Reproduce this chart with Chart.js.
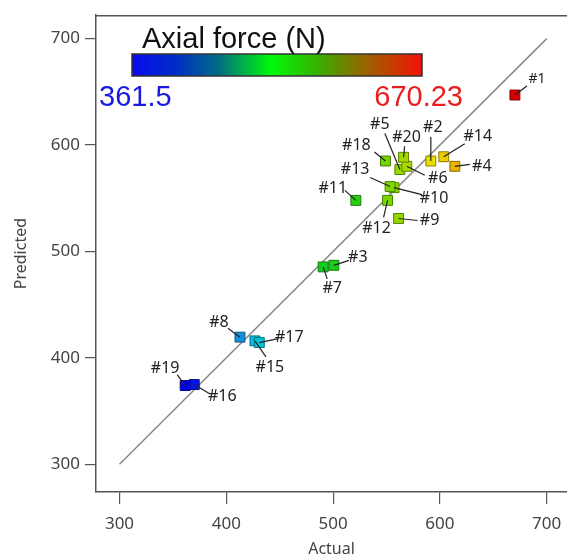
<!DOCTYPE html>
<html>
<head>
<meta charset="utf-8">
<script src="https://cdn.jsdelivr.net/npm/chart.js@4/dist/chart.umd.min.js"></script>
<style>
  html, body { margin: 0; padding: 0; background: #fff; overflow: hidden; }
  #wrap { width: 567px; height: 559px; position: relative; }
</style>
</head>
<body>
<div id="wrap"><canvas id="chart"></canvas></div>
<script>
/* ==================== DATA ==================== */
const runLabels = ['#1', '#2', '#3', '#4', '#5', '#6', '#7', '#8', '#9', '#10',
                   '#11', '#12', '#13', '#14', '#15', '#16', '#17', '#18', '#19', '#20'];
const actual    = [670.23, 591.5, 500.7, 614, 562.5, 569, 490.7, 412.8, 561.3, 557,
                   521.3, 551, 553.4, 603.6, 426.8, 370, 430.9, 549, 361.5, 566];
const predicted = [647, 585, 487, 580, 577, 580, 485.5, 419.5, 531, 560,
                   548, 548, 561, 589, 416, 375, 414.4, 585, 374, 588.5];
const xTicks = [300, 400, 500, 600, 700];
const yTicks = [300, 400, 500, 600, 700];
const fitLine = [300, 700];
const forceMin = 361.5;
const forceMax = 670.23;

// label placement: [text dx, text dy, leader end dx, leader end dy] relative to marker
const labelPos = [
    [22, -16, 12, -9], [2, -34, 0, -24], [24, -8, 15, -5], [27, 0, 15, -2], [-20, -45, -15, -36],
    [31, 12, 18, 9], [9, 22, 4, 12], [-21, -15, -12, -9], [31, 2, 19, 2], [40, 11, 28, 7],
    [-23, -12, -11, -10], [-11, 28, -4, 17], [-35, -17, -20, -9], [34, -20, 21, -13], [15, 27, 11, 16],
    [28, 12, 15, 9], [30, -5, 19, -4], [-29, -16, -11, -9], [-20, -17, -8, -11], [3, -20, 1, -11],
];

/* ==================== COLOURS ==================== */
const pointStops = [
    [0.00, [0, 0, 235]], [0.16, [20, 140, 220]], [0.22, [0, 195, 225]], [0.42, [20, 205, 30]],
    [0.52, [45, 205, 20]], [0.62, [125, 215, 0]], [0.75, [235, 222, 0]], [0.80, [235, 195, 0]],
    [0.84, [232, 160, 0]], [1.00, [215, 0, 0]],
];

function mix(stops, t) {
    t = Math.max(0, Math.min(1, t));
    for (let i = 1; i < stops.length; i++) {
        if (t <= stops[i][0]) {
            const [t0, c0] = stops[i - 1];
            const [t1, c1] = stops[i];
            const f = (t - t0) / (t1 - t0);
            return c0.map((v, k) => Math.round(v + (c1[k] - v) * f));
        }
    }
    return stops[stops.length - 1][1];
}

const fills = actual.map((a) => mix(pointStops, (a - forceMin) / (forceMax - forceMin)));
const fillCss = fills.map((c) => 'rgb(' + c.join(',') + ')');
const edgeCss = fills.map((c) => 'rgb(' + c.map((v) => Math.round(v * 0.6)).join(',') + ')');

/* ==================== PLUGINS ==================== */
const frameAndLabels = {
    id: 'frameAndLabels',
    afterDatasetsDraw(chart) {
        const { ctx, chartArea, scales } = chart;
        ctx.save();
        // top edge of the plot frame
        ctx.strokeStyle = '#555';
        ctx.lineWidth = 1.5;
        ctx.beginPath();
        ctx.moveTo(chartArea.left, chartArea.top + 0.5);
        ctx.lineTo(chartArea.right, chartArea.top + 0.5);
        ctx.stroke();

        // run labels with leader lines
        ctx.textAlign = 'center';
        ctx.textBaseline = 'middle';
        ctx.fillStyle = '#222';
        ctx.strokeStyle = '#222';
        ctx.lineWidth = 1.2;
        runLabels.forEach((lab, i) => {
            const px = scales.x.getPixelForValue(actual[i]);
            const py = scales.y.getPixelForValue(predicted[i]);
            const [tx, ty, lx, ly] = labelPos[i];
            ctx.beginPath();
            ctx.moveTo(px, py);
            ctx.lineTo(px + lx, py + ly);
            ctx.stroke();
            ctx.font = (i === 0 ? '14px' : '16px') + ' "Noto Sans", sans-serif';
            ctx.fillText(lab, px + tx, py + ty);
        });
        ctx.restore();
    },
    afterDraw(chart) {
        const { ctx } = chart;
        ctx.save();
        // colour bar legend
        const x0 = 132, y0 = 54, w = 290, h = 22;
        const g = ctx.createLinearGradient(x0, 0, x0 + w, 0);
        g.addColorStop(0.00, 'rgb(10,10,235)');
        g.addColorStop(0.15, 'rgb(0,45,200)');
        g.addColorStop(0.30, 'rgb(0,110,130)');
        g.addColorStop(0.48, 'rgb(0,250,10)');
        g.addColorStop(0.65, 'rgb(60,170,0)');
        g.addColorStop(0.78, 'rgb(140,110,0)');
        g.addColorStop(0.90, 'rgb(200,60,0)');
        g.addColorStop(1.00, 'rgb(245,15,10)');
        ctx.fillStyle = g;
        ctx.fillRect(x0, y0, w, h);
        ctx.strokeStyle = '#333';
        ctx.lineWidth = 1.5;
        ctx.strokeRect(x0, y0, w, h);

        ctx.textBaseline = 'alphabetic';
        ctx.textAlign = 'left';
        ctx.font = '29px "Liberation Sans", Arial, sans-serif';
        ctx.fillStyle = '#111';
        ctx.fillText('Axial force (N)', 142, 48);
        ctx.fillStyle = 'rgb(25,25,225)';
        ctx.fillText(String(forceMin), 99, 106);
        ctx.fillStyle = 'rgb(232,30,30)';
        ctx.textAlign = 'right';
        ctx.fillText(String(forceMax), 463, 106);
        ctx.restore();
    },
};

/* ==================== CHART ==================== */
const tickFont = { family: '"Noto Sans", sans-serif', size: 17 };
const titleFont = { family: '"Noto Sans", sans-serif', size: 16 };

new Chart(document.getElementById('chart'), {
    type: 'scatter',
    data: {
        datasets: [
            {
                type: 'line',
                data: fitLine.map((v) => ({ x: v, y: v })),
                borderColor: '#8a8a8a',
                borderWidth: 1.5,
                pointRadius: 0,
                order: 2,
            },
            {
                data: actual.map((a, i) => ({ x: a, y: predicted[i] })),
                pointStyle: 'rect',
                pointRadius: 7,
                pointBackgroundColor: fillCss,
                pointBorderColor: edgeCss,
                pointBorderWidth: 1,
                order: 1,
            },
        ],
    },
    options: {
        responsive: true,
        maintainAspectRatio: false,
        animation: false,
        layout: { autoPadding: false, padding: { top: 13, left: 0, right: 0, bottom: 0 } },
        plugins: { legend: { display: false }, tooltip: { enabled: false } },
        scales: {
            x: {
                type: 'linear',
                min: 278,
                max: 719,
                afterBuildTicks: (axis) => { axis.ticks = xTicks.map((v) => ({ value: v })); },
                afterFit: (axis) => { axis.height = 67; axis.paddingRight = 0; axis.paddingLeft = 0; },
                grid: { drawOnChartArea: false, drawTicks: true, tickLength: 12, color: '#555', lineWidth: 1.2 },
                border: { display: true, color: '#555', width: 1.5 },
                ticks: { color: '#444', font: tickFont, padding: 10, maxRotation: 0 },
                title: { display: true, text: 'Actual', color: '#444', font: titleFont, padding: { top: 2, bottom: 0 } },
            },
            y: {
                type: 'linear',
                min: 274,
                max: 722,
                afterBuildTicks: (axis) => { axis.ticks = yTicks.map((v) => ({ value: v })); },
                afterFit: (axis) => { axis.width = 96; },
                grid: { drawOnChartArea: false, drawTicks: true, tickLength: 11, color: '#555', lineWidth: 1.2 },
                border: { display: true, color: '#555', width: 1.5 },
                ticks: { color: '#444', font: tickFont, padding: 5 },
                title: { display: true, text: 'Predicted', color: '#444', font: titleFont, padding: { top: 12, bottom: 0 } },
            },
        },
    },
    plugins: [frameAndLabels],
});
</script>
</body>
</html>
